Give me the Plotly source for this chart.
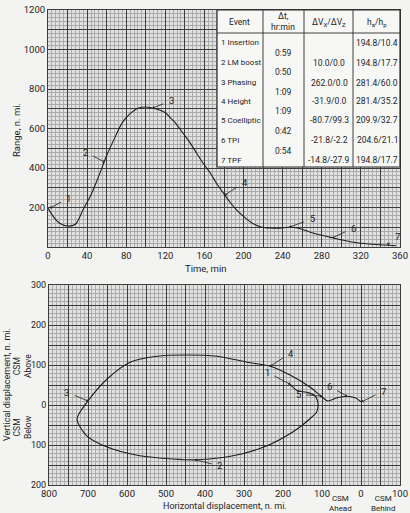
import plotly.graph_objects as go

# ---------------- data ----------------
# Top chart: range between vehicles vs time
time_min = [0, 6, 12, 20, 28, 36, 44, 52, 60, 68, 76, 84, 92, 100, 110, 120, 125,
            130, 138, 145, 152, 160, 166, 172, 179, 186, 193, 200, 207, 217, 227,
            240, 248, 258, 270, 288, 309, 329, 345, 356]
range_nmi = [197, 150, 120, 106, 115, 190, 265, 360, 463, 550, 630, 675, 703, 709,
             700, 680, 655, 630, 577, 530, 475, 415, 375, 325, 275, 228, 187, 155,
             127, 103, 96, 96, 101, 92, 72, 50, 27, 15, 10, 6]

# Top chart event markers (label, time, range at curve)
top_event_ids = ["1", "2", "3", "4", "5", "6", "7"]
top_event_t = [2, 58, 107, 181, 247, 291, 347]
top_event_r = [197, 430, 704, 263, 101, 46, 12]

# Bottom chart: relative motion (horizontal, vertical displacement)
horiz_nmi = [182, 164, 140, 120, 112, 110, 114, 126, 150, 174, 241, 328, 421, 482,
             567, 651, 703, 728, 700, 651, 592, 523, 446, 369, 292, 233, 182, 131,
             100, 85, 62, 36, 15, 0]
vert_nmi = [52, 36, 32, 25, 12, -2, -18, -30, -50, -67, -102, -127, -137, -135,
            -127, -105, -77, -35, 10, 65, 107, 122, 125, 122, 107, 97, 75, 45,
            20, 10, 18, 22, 18, 8]

bot_event_ids = ["1", "2", "3", "4", "5", "6", "7"]
bot_event_h = [182, 426, 700, 233, 100, 36, -2]
bot_event_v = [52, -137, 10, 97, 22, 22, 8]

# Table
tbl_events = ["1 Insertion", "2 LM boost", "3 Phasing", "4 Height",
              "5 Coelliptic", "6 TPI", "7 TPF"]
tbl_dt = ["0:59", "0:50", "1:09", "1:09", "0:42", "0:54"]
tbl_dv = ["", "10.0/0.0", "262.0/0.0", "-31.9/0.0", "-80.7/99.3",
          "-21.8/-2.2", "-14.8/-27.9"]
tbl_hahp = ["194.8/10.4", "194.8/17.7", "281.4/60.0", "281.4/35.2",
            "209.9/32.7", "204.6/21.1", "194.8/17.7"]

top_xticks = list(range(0, 361, 20))
top_yticks = list(range(0, 1201, 100))
bot_xticks = list(range(-100, 801, 50))
bot_yticks = list(range(-200, 301, 50))

# ---------------- styling ----------------
W, H = 410, 513
FONT = "Liberation Sans Narrow, Roboto, sans-serif"
INK = "#1e1e1e"
MAJ = "#3c3c3c"
MIN = "#ababab"
PAPER = "#f3f3f1"
PLOTBG = "#e2e2e0"


def px(x, y):
    return x / W, 1 - y / H


fig = go.Figure()
fig.add_trace(go.Scatter(x=time_min, y=range_nmi, mode="lines",
                         line=dict(color=INK, width=1.1, shape="spline", smoothing=0.8),
                         xaxis="x", yaxis="y", showlegend=False, hoverinfo="skip"))
fig.add_trace(go.Scatter(x=horiz_nmi, y=vert_nmi, mode="lines",
                         line=dict(color=INK, width=1.1, shape="spline", smoothing=0.8),
                         xaxis="x2", yaxis="y2", showlegend=False, hoverinfo="skip"))


def axis(domain, rng, tickvals, ticktext, minor_dtick, anchor, size=9.5):
    return dict(domain=domain, range=rng, tickvals=tickvals, ticktext=ticktext,
                showgrid=True, gridcolor=MAJ, gridwidth=0.8, zeroline=False,
                showline=True, linecolor=MAJ, linewidth=1, mirror=True,
                ticks="", tickfont=dict(family=FONT, size=size, color=INK),
                minor=dict(dtick=minor_dtick, showgrid=True, gridcolor=MIN, gridwidth=0.5),
                anchor=anchor, fixedrange=True, automargin=False)


top_xtext = [str(v) if v % 40 == 0 else "" for v in top_xticks]
top_ytext = [str(v) if (v % 200 == 0 and v > 0) else "" for v in top_yticks]
bot_xtext = [str(abs(v)) if v % 100 == 0 else "" for v in bot_xticks]
bot_ytext = [str(abs(v)) if v % 100 == 0 else "" for v in bot_yticks]

fig.update_layout(
    width=W, height=H, margin=dict(l=0, r=0, t=0, b=0, pad=0, autoexpand=False),
    paper_bgcolor=PAPER, plot_bgcolor=PLOTBG,
    xaxis=axis([48 / W, 400 / W], [0, 360], top_xticks, top_xtext, 4, "y"),
    yaxis=axis([1 - 247 / H, 1 - 10 / H], [0, 1200], top_yticks, top_ytext, 20, "x"),
    xaxis2=axis([49 / W, 400 / W], [800, -100], bot_xticks, bot_xtext, 10, "y2"),
    yaxis2=axis([1 - 485 / H, 1 - 285 / H], [-200, 300], bot_yticks, bot_ytext, 10, "x2",
                size=9),
)

ann = []


def text(x, y, s, size=9.5, angle=0, xanchor="center", ref=("paper", "paper")):
    ann.append(dict(x=x, y=y, xref=ref[0], yref=ref[1], text=s, showarrow=False,
                    textangle=angle, xanchor=xanchor, yanchor="middle",
                    font=dict(family=FONT, size=size, color=INK)))


# axis titles
text(*px(205, 268), "Time, min")
text(*px(16, 130), "Range, n. mi.", angle=-90)
text(*px(225, 506), "Horizontal displacement, n. mi.", size=9)
text(*px(7, 385), "Vertical displacement, n. mi.", size=9, angle=-90)
text(*px(22, 366), "CSM<br>Above", size=8.5, angle=-90)
text(*px(22, 427), "CSM<br>Below", size=8.5, angle=-90)
text(*px(340, 503), "CSM<br>Ahead", size=8)
text(*px(383, 503), "CSM<br>Behind", size=8)

# event labels, top chart (label offsets in data units)
top_lbl_t = [21, 38, 126, 201, 270, 312, 357]
top_lbl_r = [248, 481, 740, 329, 142, 96, 51]
for i in range(len(top_event_ids)):
    ann.append(dict(x=top_event_t[i], y=top_event_r[i], xref="x", yref="y",
                    ax=top_lbl_t[i], ay=top_lbl_r[i], axref="x", ayref="y",
                    text=top_event_ids[i], showarrow=True, arrowhead=1, arrowsize=0.7,
                    arrowwidth=0.8, arrowcolor=INK, standoff=0, startstandoff=4,
                    font=dict(family=FONT, size=9.5, color=INK)))

bot_lbl_h = [241, 362, 754, 180, 161, 80, -57]
bot_lbl_v = [82, -152, 32, 130, 27, 47, 35]
for i in range(len(bot_event_ids)):
    ann.append(dict(x=bot_event_h[i], y=bot_event_v[i], xref="x2", yref="y2",
                    ax=bot_lbl_h[i], ay=bot_lbl_v[i], axref="x2", ayref="y2",
                    text=bot_event_ids[i], showarrow=True, arrowhead=1, arrowsize=0.7,
                    arrowwidth=0.8, arrowcolor=INK, standoff=0, startstandoff=4,
                    font=dict(family=FONT, size=9.5, color=INK)))

# ---------------- table ----------------
shapes = []
tx0, tx1, ty0, ty1 = 217, 400, 10, 167
x0p, y0p = px(tx0, ty1)
x1p, y1p = px(tx1, ty0)
shapes.append(dict(type="rect", xref="paper", yref="paper", x0=x0p, x1=x1p, y0=y0p, y1=y1p,
                   fillcolor="#f7f7f5", line=dict(color="#2a2a2a", width=1.2), layer="above"))
for cx in [263, 304, 353]:
    xp, _ = px(cx, 0)
    shapes.append(dict(type="line", xref="paper", yref="paper", x0=xp, x1=xp, y0=y0p, y1=y1p,
                       line=dict(color="#2a2a2a", width=0.9), layer="above"))
_, hy = px(0, 33)
shapes.append(dict(type="line", xref="paper", yref="paper", x0=x0p, x1=x1p, y0=hy, y1=hy,
                   line=dict(color="#2a2a2a", width=0.9), layer="above"))
fig.update_layout(shapes=shapes)

TS = 8.5
text(*px(240, 22), "Event", size=TS)
text(*px(283, 16), "Δt,", size=TS)
text(*px(283, 27), "hr:min", size=TS)
text(*px(329, 22), "ΔV<sub>X</sub>/ΔV<sub>Z</sub>", size=TS)
text(*px(377, 22), "h<sub>a</sub>/h<sub>p</sub>", size=TS)

row_y = [43, 63, 83, 101, 120, 140, 160]
dt_y = [53, 72, 92, 111, 131, 151]
for i, ev in enumerate(tbl_events):
    text(*px(219, row_y[i]), ev, size=8, xanchor="left")
    if tbl_dv[i]:
        text(*px(329, row_y[i]), tbl_dv[i], size=TS)
    text(*px(377, row_y[i]), tbl_hahp[i], size=TS)
for i, d in enumerate(tbl_dt):
    text(*px(283, dt_y[i]), d, size=TS)

fig.update_layout(annotations=ann)
fig.write_html(
    "out.html",
    config={"displayModeBar": False},
    post_script="document.body.style.margin='0';document.body.style.overflow='hidden';",
)
